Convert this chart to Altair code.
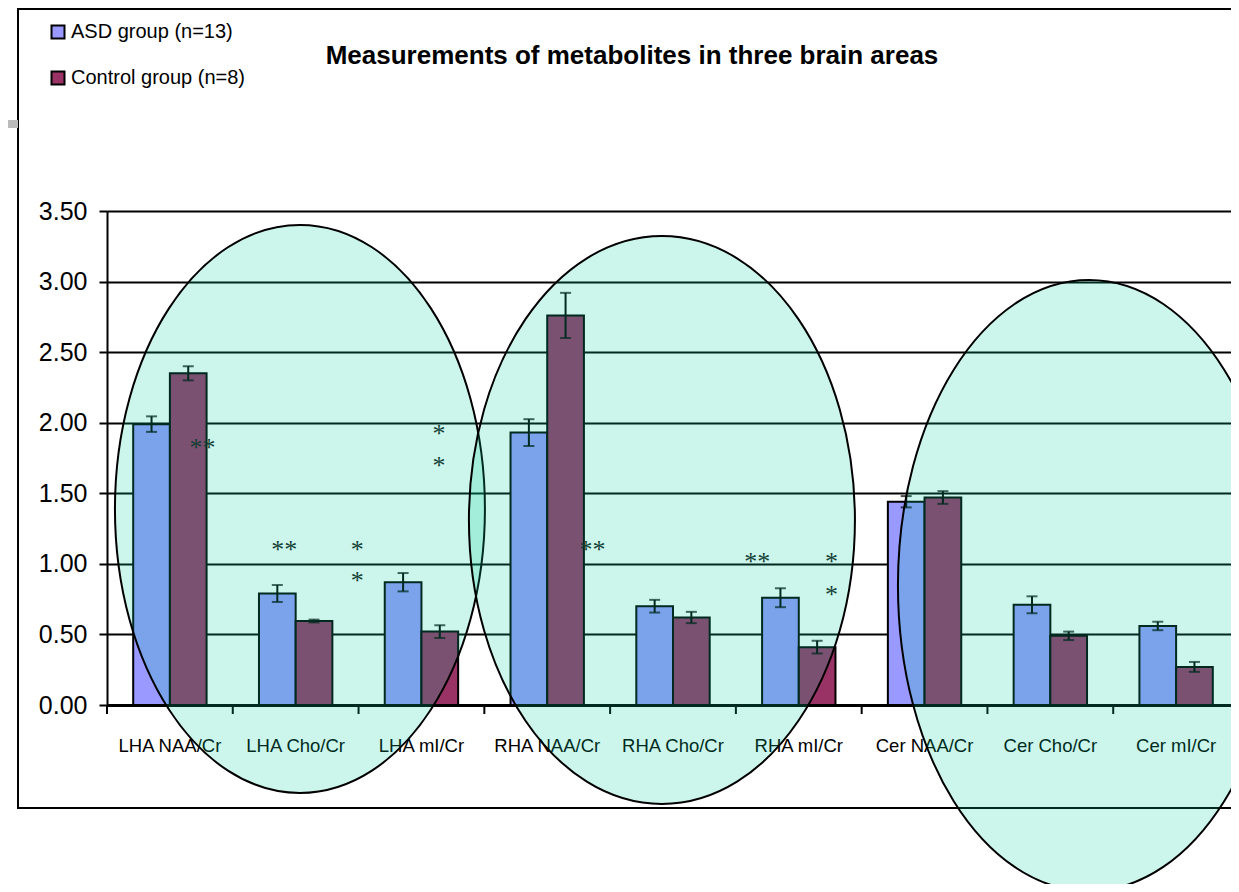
import altair as alt
import pandas as pd

# ---------------- data ----------------
CATEGORIES = ["LHA NAA/Cr", "LHA Cho/Cr", "LHA mI/Cr",
              "RHA NAA/Cr", "RHA Cho/Cr", "RHA mI/Cr",
              "Cer NAA/Cr", "Cer Cho/Cr", "Cer mI/Cr"]
GROUPS = ["ASD group (n=13)", "Control group (n=8)"]
ASD_MEAN = [1.99, 0.79, 0.87, 1.93, 0.70, 0.76, 1.44, 0.71, 0.56]
ASD_ERR = [0.055, 0.06, 0.065, 0.095, 0.045, 0.067, 0.04, 0.06, 0.03]
CTRL_MEAN = [2.35, 0.595, 0.52, 2.76, 0.62, 0.41, 1.47, 0.49, 0.27]
CTRL_ERR = [0.05, 0.01, 0.045, 0.16, 0.04, 0.045, 0.045, 0.03, 0.035]
Y_TICKS = [0.0, 0.5, 1.0, 1.5, 2.0, 2.5, 3.0, 3.5]

# significance marks: category, position inside the category band (0..1), value, text
AST_CAT = ["LHA NAA/Cr", "LHA Cho/Cr", "LHA Cho/Cr", "LHA Cho/Cr", "LHA mI/Cr",
           "LHA mI/Cr", "RHA NAA/Cr", "RHA mI/Cr", "RHA mI/Cr", "RHA mI/Cr"]
AST_POS = [0.76, 0.41, 0.99, 0.99, 0.64, 0.64, 0.86, 0.17, 0.76, 0.76]
AST_Y = [1.85, 1.13, 1.13, 0.91, 1.95, 1.72, 1.13, 1.04, 1.04, 0.81]
AST_TEXT = ["**", "**", "*", "*", "*", "*", "**", "**", "*", "*"]

# highlight ellipses (centre in category units / value units)
ELL_X = [1.534, 4.412, 7.807]
ELL_Y = [1.389, 1.311, 0.847]

TITLE = "Measurements of metabolites in three brain areas"

# ---------------- style ----------------
SANS = "Liberation Sans, Arial, sans-serif"
SERIF = "Liberation Serif, Times New Roman, serif"
W, H = 1124, 494          # visible plot area
FULL_W = 1132             # 9 category bands of ~125.8 px (last one runs off the page)
ELL_RX = [185, 193, 191]
ELL_RY = [284, 284, 305.5]
ELL_FILL = "#00CC99"

rows = []
for i, c in enumerate(CATEGORIES):
    rows.append({"cat": c, "group": GROUPS[0], "value": ASD_MEAN[i],
                 "lo": ASD_MEAN[i] - ASD_ERR[i], "hi": ASD_MEAN[i] + ASD_ERR[i]})
    rows.append({"cat": c, "group": GROUPS[1], "value": CTRL_MEAN[i],
                 "lo": CTRL_MEAN[i] - CTRL_ERR[i], "hi": CTRL_MEAN[i] + CTRL_ERR[i]})
df = pd.DataFrame(rows)

ast = pd.DataFrame({
    "pos": [CATEGORIES.index(c) + p for c, p in zip(AST_CAT, AST_POS)],
    "ay": AST_Y, "txt": AST_TEXT})

ydom = alt.Scale(domain=[0, 3.5], nice=False, zero=True)
xscale = alt.Scale(paddingInner=0, paddingOuter=0, range=[0, FULL_W])
offscale = alt.Scale(paddingInner=0, paddingOuter=0.714)
qx = alt.Scale(domain=[0, 9], nice=False, zero=False, range=[0, FULL_W])

base = alt.Chart(df)

x_main = alt.X("cat:N", sort=CATEGORIES, scale=xscale, title=None,
               axis=alt.Axis(ticks=False, domainColor="black", domainWidth=3,
                             labelFont=SANS, labelFontSize=18.5, labelColor="black",
                             labelPadding=31, labelAngle=0, zindex=0))
x_plain = alt.X("cat:N", sort=CATEGORIES, scale=xscale, axis=None)
xoff = alt.XOffset("group:N", sort=GROUPS, scale=offscale)

bars = base.mark_bar(stroke="black", strokeWidth=2).encode(
    x=x_main,
    xOffset=xoff,
    y=alt.Y("value:Q", scale=ydom, title=None,
            axis=alt.Axis(values=Y_TICKS, format=".2f", grid=True, gridColor="black",
                          gridWidth=2, tickColor="black", tickSize=8, tickWidth=2,
                          domainColor="black", domainWidth=2, labelFont=SANS,
                          labelFontSize=25, labelColor="black", labelPadding=12,
                          zindex=0)),
    color=alt.Color("group:N", sort=GROUPS,
                    scale=alt.Scale(domain=GROUPS, range=["#9999FF", "#993366"]),
                    legend=alt.Legend(orient="none", legendX=-59, legendY=-189,
                                      title=None, symbolType="square", symbolSize=169,
                                      symbolStrokeColor="black", symbolStrokeWidth=2,
                                      labelFont=SANS, labelFontSize=20, labelLimit=0,
                                      labelColor="black", labelOffset=3,
                                      rowPadding=24, padding=0)),
)

err = base.mark_rule(color="black", strokeWidth=2).encode(
    x=x_plain, xOffset=xoff,
    y=alt.Y("lo:Q", scale=ydom, title=None), y2="hi:Q")
cap_hi = base.mark_tick(color="black", thickness=2, size=11).encode(
    x=x_plain, xOffset=xoff, y=alt.Y("hi:Q", scale=ydom, title=None))
cap_lo = base.mark_tick(color="black", thickness=2, size=11).encode(
    x=x_plain, xOffset=xoff, y=alt.Y("lo:Q", scale=ydom, title=None))

cat_df = pd.DataFrame({"cat": CATEGORIES})
xticks = alt.Chart(cat_df).mark_rule(color="black", strokeWidth=2).encode(
    x=alt.X("cat:N", sort=CATEGORIES, scale=xscale, axis=None, bandPosition=0),
    y=alt.value(H), y2=alt.value(H + 9))

stars = alt.Chart(ast).mark_text(font=SERIF, fontSize=26, color="#1a1a1a",
                                 baseline="alphabetic", dy=12).encode(
    x=alt.X("pos:Q", scale=qx, axis=None),
    y=alt.Y("ay:Q", scale=ydom, title=None),
    text="txt:N")


def ellipse_path(ratio):
    k = 0.5523
    a = ratio
    return (f"M {a:.4f} 0 C {a:.4f} {k:.4f} {a*k:.4f} 1 0 1 "
            f"C {-a*k:.4f} 1 {-a:.4f} {k:.4f} {-a:.4f} 0 "
            f"C {-a:.4f} {-k:.4f} {-a*k:.4f} -1 0 -1 "
            f"C {a*k:.4f} -1 {a:.4f} {-k:.4f} {a:.4f} 0 Z")


ellipses = []
for i in range(3):
    edf = pd.DataFrame({"ex": [ELL_X[i]], "ey": [ELL_Y[i]]})
    ellipses.append(
        alt.Chart(edf).mark_point(
            shape=ellipse_path(ELL_RX[i] / ELL_RY[i]), size=(2 * ELL_RY[i]) ** 2,
            filled=True, fill=ELL_FILL, fillOpacity=0.2, stroke="black",
            strokeWidth=2, strokeOpacity=1, opacity=1
        ).encode(x=alt.X("ex:Q", scale=qx, axis=None),
                 y=alt.Y("ey:Q", scale=ydom, title=None))
    )

one = alt.Data(values=[{"a": 1}])
frame = alt.Chart(one).mark_rect(fill="white", fillOpacity=0, stroke="black",
                                 strokeWidth=2).encode(
    x=alt.value(-89), x2=alt.value(W + 20), y=alt.value(-202), y2=alt.value(597))
graybar = alt.Chart(one).mark_rect(fill="#BBBBBB").encode(
    x=alt.value(-99), x2=alt.value(-89), y=alt.value(-91), y2=alt.value(-83))
title = alt.Chart(one).mark_text(text=TITLE, font=SANS, fontSize=26,
                                 fontWeight="bold", color="black",
                                 align="center", baseline="middle").encode(
    x=alt.value(632 - 107), y=alt.value(56 - 211))

chart = alt.layer(frame, graybar, bars, err, cap_hi, cap_lo, xticks, stars,
                  *ellipses, title).resolve_scale(x="independent").properties(
    width=W, height=H,
    autosize=alt.AutoSizeParams(type="none"),
    padding={"left": 99, "top": 203, "right": 0, "bottom": 179},
).configure_view(stroke="black", strokeWidth=2).configure(background="white")

chart.save("out.html", embed_options={"renderer": "svg", "actions": False})
